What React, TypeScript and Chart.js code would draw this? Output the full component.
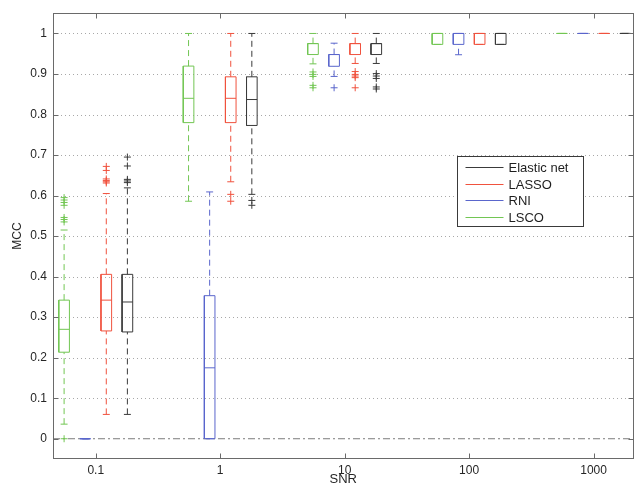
import React, { useEffect, useRef } from 'react';
import { Chart, registerables } from 'chart.js';

Chart.register(...registerables);

// ---------- data ----------
const SNR_LABELS = ['0.1', '1', '10', '100', '1000'];
const SNR_LOG10 = [-1, 0, 1, 2, 3];
const Y_TICKS = [0, 0.1, 0.2, 0.3, 0.4, 0.5, 0.6, 0.7, 0.8, 0.9, 1];
const Y_LABELS = ['0', '0.1', '0.2', '0.3', '0.4', '0.5', '0.6', '0.7', '0.8', '0.9', '1'];

// each row: [lower whisker, q1, median, q3, upper whisker] for SNR 0.1, 1, 10, 100, 1000
const LSCO_BOX = [
  [0.036, 0.2135, 0.27, 0.342, 0.515],
  [0.586, 0.78, 0.84, 0.9195, 1.0],
  [0.925, 0.948, 0.975, 0.975, 1.0],
  [0.973, 0.973, 1.0, 1.0, 1.0],
  [1, 1, 1, 1, 1],
];
const LSCO_OUT = [
  [0, 0.535, 0.541, 0.546, 0.576, 0.583, 0.589, 0.595],
  [],
  [0.866, 0.872, 0.894, 0.899, 0.905],
  [],
  [],
];

const RNI_BOX = [
  [0, 0, 0, 0, 0],
  [0, 0, 0.175, 0.353, 0.609],
  [0.894, 0.919, 0.948, 0.948, 0.976],
  [0.9475, 0.973, 1.0, 1.0, 1.0],
  [1, 1, 1, 1, 1],
];
const RNI_OUT = [[], [], [0.866], [], []];

const LASSO_BOX = [
  [0.06, 0.266, 0.342, 0.4056, 0.605],
  [0.634, 0.78, 0.84, 0.893, 1.0],
  [0.926, 0.948, 0.975, 0.975, 1.0],
  [0.973, 0.973, 1.0, 1.0, 1.0],
  [1, 1, 1, 1, 1],
];
const LASSO_OUT = [
  [0.631, 0.634, 0.637, 0.641, 0.662, 0.672],
  [0.586, 0.603],
  [0.866, 0.891, 0.895, 0.899, 0.906],
  [],
  [],
];

const ENET_BOX = [
  [0.06, 0.2635, 0.3374, 0.4056, 0.619],
  [0.603, 0.773, 0.837, 0.893, 1.0],
  [0.926, 0.948, 0.975, 0.975, 1.0],
  [0.973, 0.973, 1.0, 1.0, 1.0],
  [1, 1, 1, 1, 1],
];
const ENET_OUT = [
  [0.632, 0.636, 0.64, 0.673, 0.695],
  [0.576, 0.588],
  [0.863, 0.868, 0.889, 0.895, 0.901],
  [],
  [],
];

// ---------- styles / layout ----------
const X_MIN = -1.3435;
const X_MAX = 3.321;
const SLOT = 0.1695; // spacing between boxes within a group (in log10 units)
const HALF_W = 0.0427; // half box width
const CAP_W = 0.028; // half cap width

const SERIES = [
  { name: 'LSCO', color: '#72c653', box: LSCO_BOX, out: LSCO_OUT, slot: -1.5 },
  { name: 'RNI', color: '#5a66cc', box: RNI_BOX, out: RNI_OUT, slot: -0.5 },
  { name: 'LASSO', color: '#f0523e', box: LASSO_BOX, out: LASSO_OUT, slot: 0.5 },
  { name: 'Elastic net', color: '#3a3a3a', box: ENET_BOX, out: ENET_OUT, slot: 1.5 },
];
const LEGEND_ORDER = ['Elastic net', 'LASSO', 'RNI', 'LSCO'];
const FONT = "'Liberation Sans', Arial, Helvetica, sans-serif";

function lineDs(data: any[], color: string, dash: number[] = []) {
  return {
    data,
    showLine: true,
    borderColor: color,
    backgroundColor: color,
    borderWidth: 1,
    borderDash: dash,
    pointRadius: 0,
    pointHoverRadius: 0,
    fill: false,
    tension: 0,
    order: 0,
  };
}

function buildDatasets() {
  const ds: any[] = [];
  SERIES.forEach((s) => {
    s.box.forEach((b, g) => {
      const xc = SNR_LOG10[g] + s.slot * SLOT;
      const [lo, q1, med, q3, hi] = b;
      // whiskers (dashed)
      if (hi > q3) ds.push(lineDs([{ x: xc, y: q3 }, { x: xc, y: hi }], s.color, [6, 4]));
      if (lo < q1) ds.push(lineDs([{ x: xc, y: lo }, { x: xc, y: q1 }], s.color, [6, 4]));
      // caps
      ds.push(lineDs([{ x: xc - CAP_W, y: hi }, { x: xc + CAP_W, y: hi }], s.color));
      ds.push(lineDs([{ x: xc - CAP_W, y: lo }, { x: xc + CAP_W, y: lo }], s.color));
      // box
      ds.push(
        lineDs(
          [
            { x: xc - HALF_W, y: q1 },
            { x: xc + HALF_W, y: q1 },
            { x: xc + HALF_W, y: q3 },
            { x: xc - HALF_W, y: q3 },
            { x: xc - HALF_W, y: q1 },
          ],
          s.color
        )
      );
      // median
      ds.push(lineDs([{ x: xc - HALF_W, y: med }, { x: xc + HALF_W, y: med }], s.color));
      // outliers
      const outs = s.out[g];
      if (outs.length) {
        ds.push({
          data: outs.map((v) => ({ x: xc, y: v })),
          showLine: false,
          pointStyle: 'cross',
          pointRadius: 3.5,
          pointHoverRadius: 3.5,
          pointBorderWidth: 1,
          borderColor: s.color,
          backgroundColor: s.color,
          order: 0,
        });
      }
    });
  });
  // dash-dot reference line at zero
  ds.push({
    ...lineDs([{ x: X_MIN, y: 0 }, { x: X_MAX, y: 0 }], '#7c7c7c', [7, 3, 2, 3]),
    order: 1,
  });
  return ds;
}

const framePlugin = {
  id: 'matlabFrame',
  beforeDatasetsDraw(chart: any) {
    const { ctx, chartArea: a, scales } = chart;
    const y = scales.y;
    ctx.save();
    ctx.strokeStyle = '#a8a8a8';
    ctx.lineWidth = 1;
    ctx.setLineDash([1, 3]);
    Y_TICKS.forEach((v) => {
      if (v === 0) return; // the zero line is drawn dash-dot instead
      const py = Math.round(y.getPixelForValue(v)) + 0.5;
      ctx.beginPath();
      ctx.moveTo(a.left, py);
      ctx.lineTo(a.right, py);
      ctx.stroke();
    });
    ctx.restore();
  },
  afterDatasetsDraw(chart: any) {
    const { ctx, chartArea: a, scales } = chart;
    const x = scales.x;
    const y = scales.y;
    const L = Math.round(a.left) + 0.5;
    const R = Math.round(a.right) - 0.5;
    const T = Math.round(a.top) + 0.5;
    const B = Math.round(a.bottom) - 0.5;
    ctx.save();
    ctx.setLineDash([]);
    ctx.strokeStyle = '#6a6a6a';
    ctx.lineWidth = 1;
    ctx.strokeRect(L, T, R - L, B - T);
    const tl = 5;
    ctx.beginPath();
    SNR_LOG10.forEach((v) => {
      const px = Math.round(x.getPixelForValue(v)) + 0.5;
      ctx.moveTo(px, B);
      ctx.lineTo(px, B - tl);
      ctx.moveTo(px, T);
      ctx.lineTo(px, T + tl);
    });
    Y_TICKS.forEach((v) => {
      const py = Math.round(y.getPixelForValue(v)) + 0.5;
      ctx.moveTo(L, py);
      ctx.lineTo(L + tl, py);
      ctx.moveTo(R, py);
      ctx.lineTo(R - tl, py);
    });
    ctx.stroke();

    // legend box
    const lx = Math.round(a.right - 177) + 0.5;
    const ly = Math.round(a.top + 143) + 0.5;
    const lw = 126;
    const lh = 70;
    ctx.fillStyle = '#ffffff';
    ctx.fillRect(lx, ly, lw, lh);
    ctx.strokeStyle = '#3a3a3a';
    ctx.strokeRect(lx, ly, lw, lh);
    ctx.font = `13px ${FONT}`;
    ctx.textBaseline = 'middle';
    ctx.textAlign = 'left';
    LEGEND_ORDER.forEach((name, i) => {
      const s = SERIES.find((q) => q.name === name)!;
      const ry = Math.round(ly + 10.5 + i * 16.5) + 0.5;
      ctx.strokeStyle = s.color;
      ctx.beginPath();
      ctx.moveTo(lx + 8, ry);
      ctx.lineTo(lx + 46, ry);
      ctx.stroke();
      ctx.fillStyle = '#1e1e1e';
      ctx.fillText(name, lx + 51, ry + 0.5);
    });
    ctx.restore();
  },
};

export default function App() {
  const ref = useRef<HTMLCanvasElement | null>(null);
  useEffect(() => {
    if (!ref.current) return;
    const chart = new Chart(ref.current, {
      type: 'scatter',
      data: { datasets: buildDatasets() },
      options: {
        animation: false,
        responsive: false,
        devicePixelRatio: 1,
        events: [],
        layout: { padding: { top: 12, right: 1, left: 0, bottom: 0 } },
        plugins: {
          legend: { display: false },
          tooltip: { enabled: false },
          title: { display: false },
        },
        scales: {
          x: {
            type: 'linear',
            position: 'bottom',
            min: X_MIN,
            max: X_MAX,
            afterBuildTicks: (s: any) => {
              s.ticks = SNR_LOG10.map((v) => ({ value: v }));
            },
            afterFit: (s: any) => {
              s.height = 27;
            },
            ticks: {
              autoSkip: false,
              maxRotation: 0,
              padding: 4,
              color: '#262626',
              font: { family: FONT, size: 12 },
              callback: (_v: any, i: number) => SNR_LABELS[i],
            },
            grid: { display: false, drawTicks: false },
            border: { display: false },
            title: {
              display: true,
              text: 'SNR',
              color: '#262626',
              font: { family: FONT, size: 13, lineHeight: 1 },
              padding: 0,
            },
          },
          y: {
            type: 'linear',
            min: -0.05,
            max: 1.05,
            afterBuildTicks: (s: any) => {
              s.ticks = Y_TICKS.map((v) => ({ value: v }));
            },
            afterFit: (s: any) => {
              s.width = 53;
            },
            ticks: {
              autoSkip: false,
              padding: 6,
              color: '#262626',
              font: { family: FONT, size: 12 },
              callback: (_v: any, i: number) => Y_LABELS[i],
            },
            grid: { display: false, drawTicks: false },
            border: { display: false },
            title: {
              display: true,
              text: 'MCC',
              color: '#262626',
              font: { family: FONT, size: 12 },
              padding: { top: 10, bottom: 0 },
            },
          },
        },
      },
      plugins: [framePlugin],
    } as any);
    return () => chart.destroy();
  }, []);

  return (
    <div style={{ position: 'fixed', left: 0, top: 0, width: 638, height: 486, background: '#fff' }}>
      <canvas ref={ref} width={638} height={486} style={{ display: 'block', width: 638, height: 486 }} />
    </div>
  );
}
